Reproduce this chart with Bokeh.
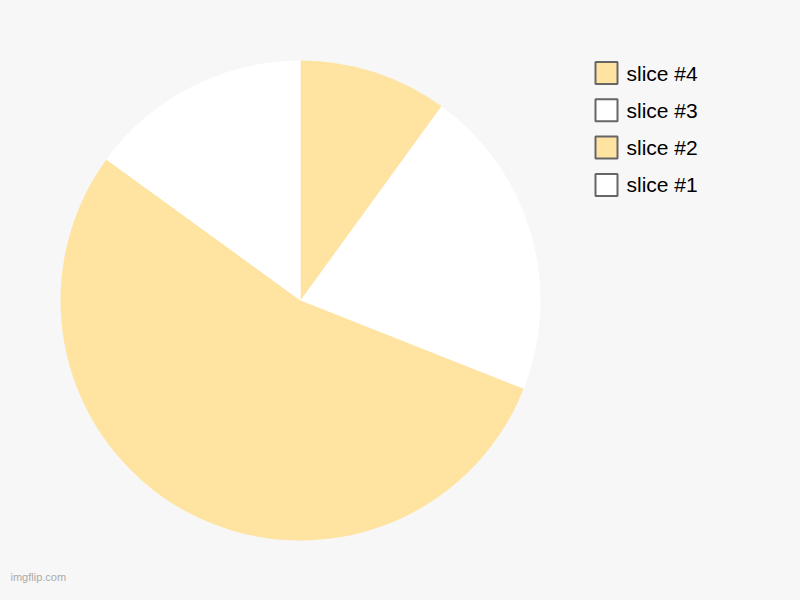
import math
from bokeh.plotting import figure
from bokeh.models import Range1d, ColumnDataSource
from bokeh.core.properties import value
from bokeh.embed import file_html
from bokeh.resources import INLINE

# Data
labels = ["slice #1", "slice #2", "slice #3", "slice #4"]
values = [15, 54, 21, 10]
colors = ["#ffffff", "#ffe3a0", "#ffffff", "#ffe3a0"]

BG = "#f7f7f7"
W, H = 784, 584

# data coords = picture pixel x, and (600 - picture pixel y)
p = figure(width=W, height=H, output_backend="svg", toolbar_location=None,
           x_range=Range1d(0, W), y_range=Range1d(600 - H, 600),
           min_border=0, background_fill_color=BG, border_fill_color=BG,
           outline_line_color=None)
p.axis.visible = False
p.grid.visible = False

# pie: drawn clockwise from 12 o'clock, from last slice to first
cx, cy, r = 300, 300, 240
total = float(sum(values))
order = list(reversed(range(len(values))))
starts, ends, cols = [], [], []
ang = math.pi / 2
for i in order:
    sweep = 2 * math.pi * values[i] / total
    starts.append(ang)
    ends.append(ang - sweep)
    cols.append(colors[i])
    ang -= sweep
src = ColumnDataSource(dict(x=[cx] * len(order), y=[cy] * len(order),
                            start=starts, end=ends, color=cols))
p.wedge(x="x", y="y", radius=r, start_angle="start", end_angle="end",
        direction="clock", fill_color="color", line_color=None, source=src)

# legend (top item = last slice)
lx, ly0, step = 606, 600 - 72.5, 37.3
leg_x, leg_y, leg_c, leg_t = [], [], [], []
for k, i in enumerate(order):
    leg_y.append(ly0 - k * step)
    leg_x.append(lx)
    leg_c.append(colors[i])
    leg_t.append(labels[i])
lsrc = ColumnDataSource(dict(x=leg_x, y=leg_y, c=leg_c, t=leg_t,
                             tx=[x + 20 for x in leg_x]))
p.rect(x="x", y="y", width=22, height=22, fill_color="c", line_color="#666666",
       line_width=2, source=lsrc)
p.text(x="tx", y="y", text="t", text_font=value("Liberation Sans"),
       text_font_size="21px", text_baseline="middle", text_align="left",
       text_color="#000000", source=lsrc)

# watermark
p.text(x=[10], y=[600 - 576], text=["imgflip.com"], text_font=value("Liberation Sans"),
       text_font_size="11px", text_baseline="alphabetic", text_color="#aaaaaa")

html = file_html(p, INLINE)
html = html.replace("<head>", "<head><style>body{background:%s;}</style>" % BG, 1)
open("out.html", "w").write(html)
